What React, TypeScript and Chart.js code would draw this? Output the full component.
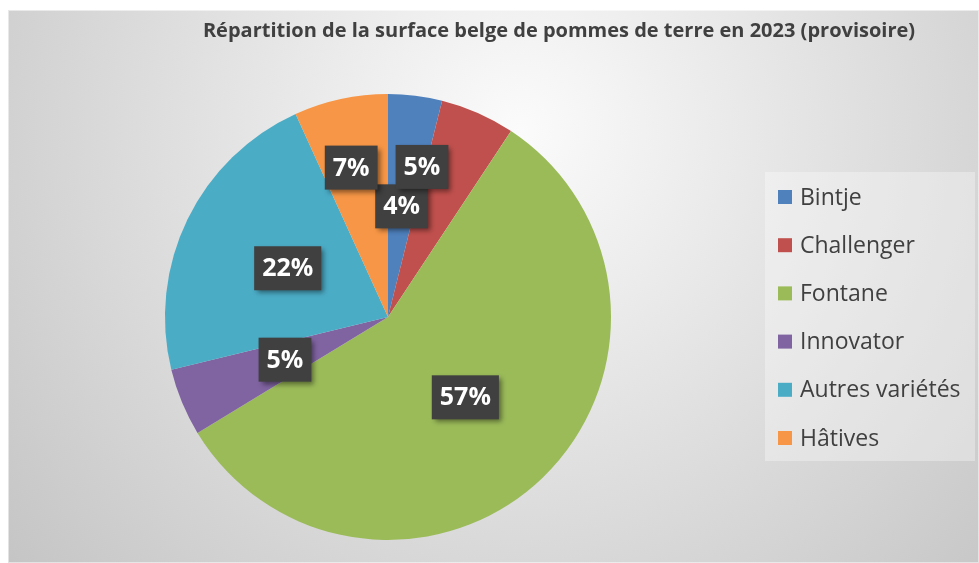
import React, { useEffect, useRef } from "react";
import { Chart, registerables } from "chart.js";

Chart.register(...registerables);

const TITLE = "Répartition de la surface belge de pommes de terre en 2023 (provisoire)";
const categories = ["Bintje", "Challenger", "Fontane", "Innovator", "Autres variétés", "Hâtives"];
const shares = [3.9, 5.4, 57.0, 4.9, 22.0, 6.8];
const sliceColors = ["#4F81BD", "#C0504D", "#9BBB59", "#8064A2", "#4BACC6", "#F79646"];
// label placement (Excel "best fit" style): radius fraction and angular shift in degrees
const labelRadius = [0.5, 0.69, 0.5, 0.5, 0.5, 0.69];
const labelShift = [0, -11, 0, 0, 0, -1.6];

const FONT = "'Open Sans', Lato, sans-serif";

const bgPlugin = {
  id: "bg",
  beforeDraw(chart: any) {
    const { ctx, width, height } = chart;
    ctx.save();
    const g = ctx.createRadialGradient(512, 120, 0, 512, 120, 680);
    g.addColorStop(0, "#fbfbfb");
    g.addColorStop(1, "#c4c4c4");
    ctx.fillStyle = g;
    ctx.fillRect(0, 0, width, height);
    ctx.strokeStyle = "rgba(255,255,255,0.5)";
    ctx.lineWidth = 1;
    ctx.strokeRect(0.5, 0.5, width - 1, height - 1);
    ctx.restore();
  },
};

const titleLegendPlugin = {
  id: "titleLegend",
  afterDraw(chart: any) {
    const { ctx } = chart;
    ctx.save();
    // title
    ctx.fillStyle = "#404040";
    ctx.font = `bold 20px ${FONT}`;
    ctx.textAlign = "center";
    ctx.textBaseline = "middle";
    ctx.fillText(TITLE, 551, 21);
    // legend box
    const lx = 757, ly = 162, lw = 210, lh = 289;
    ctx.fillStyle = "rgba(255,255,255,0.32)";
    ctx.fillRect(lx, ly, lw, lh);
    ctx.font = `23px ${FONT}`;
    ctx.textAlign = "left";
    const labels = chart.data.labels;
    const colors = chart.data.datasets[0].backgroundColor;
    for (let i = 0; i < labels.length; i++) {
      const cy = 187 + i * 48.2;
      ctx.fillStyle = colors[i];
      ctx.fillRect(770, cy - 7, 14, 14);
      ctx.fillStyle = "#404040";
      ctx.fillText(labels[i], 792, cy + 1);
    }
    ctx.restore();
  },
};

const dataLabelPlugin = {
  id: "dataLabels",
  afterDatasetsDraw(chart: any) {
    const { ctx } = chart;
    const meta = chart.getDatasetMeta(0);
    const data = chart.data.datasets[0].data as number[];
    const total = data.reduce((a, b) => a + b, 0);
    ctx.save();
    ctx.font = `bold 25px ${FONT}`;
    ctx.textAlign = "center";
    ctx.textBaseline = "middle";
    meta.data.forEach((arc: any, i: number) => {
      const { x, y, startAngle, endAngle, outerRadius } = arc.getProps(
        ["x", "y", "startAngle", "endAngle", "outerRadius"],
        true
      );
      const mid = (startAngle + endAngle) / 2 + (labelShift[i] * Math.PI) / 180;
      const r = outerRadius * labelRadius[i];
      const cx = x + Math.cos(mid) * r;
      const cy = y + Math.sin(mid) * r;
      const text = Math.round((data[i] / total) * 100) + "%";
      const tw = ctx.measureText(text).width;
      const bw = tw + 16;
      const bh = 44;
      ctx.save();
      ctx.shadowColor = "rgba(0,0,0,0.45)";
      ctx.shadowBlur = 5;
      ctx.shadowOffsetX = 3;
      ctx.shadowOffsetY = 3;
      ctx.fillStyle = "#404040";
      ctx.fillRect(cx - bw / 2, cy - bh / 2, bw, bh);
      ctx.restore();
      ctx.fillStyle = "#ffffff";
      ctx.fillText(text, cx, cy + 1);
    });
    ctx.restore();
  },
};

export default function App() {
  const ref = useRef<HTMLCanvasElement | null>(null);
  useEffect(() => {
    document.body.style.margin = "10px 0 0 8px";
    document.body.style.overflow = "hidden";
    const chart = new Chart(ref.current as HTMLCanvasElement, {
      type: "pie",
      data: {
        labels: categories,
        datasets: [
          {
            data: shares,
            backgroundColor: sliceColors,
            borderWidth: 0,
            hoverOffset: 0,
          },
        ],
      },
      options: {
        animation: false,
        responsive: false,
        devicePixelRatio: 1,
        layout: { padding: { left: 157, top: 84, right: 368, bottom: 23 } },
        plugins: {
          legend: { display: false },
          title: { display: false },
          tooltip: { enabled: false },
        },
      },
      plugins: [bgPlugin, dataLabelPlugin, titleLegendPlugin],
    });
    return () => chart.destroy();
  }, []);
  return (
    <div style={{ width: 971, height: 553 }}>
      <canvas ref={ref} width={971} height={553} style={{ display: "block" }} />
    </div>
  );
}
